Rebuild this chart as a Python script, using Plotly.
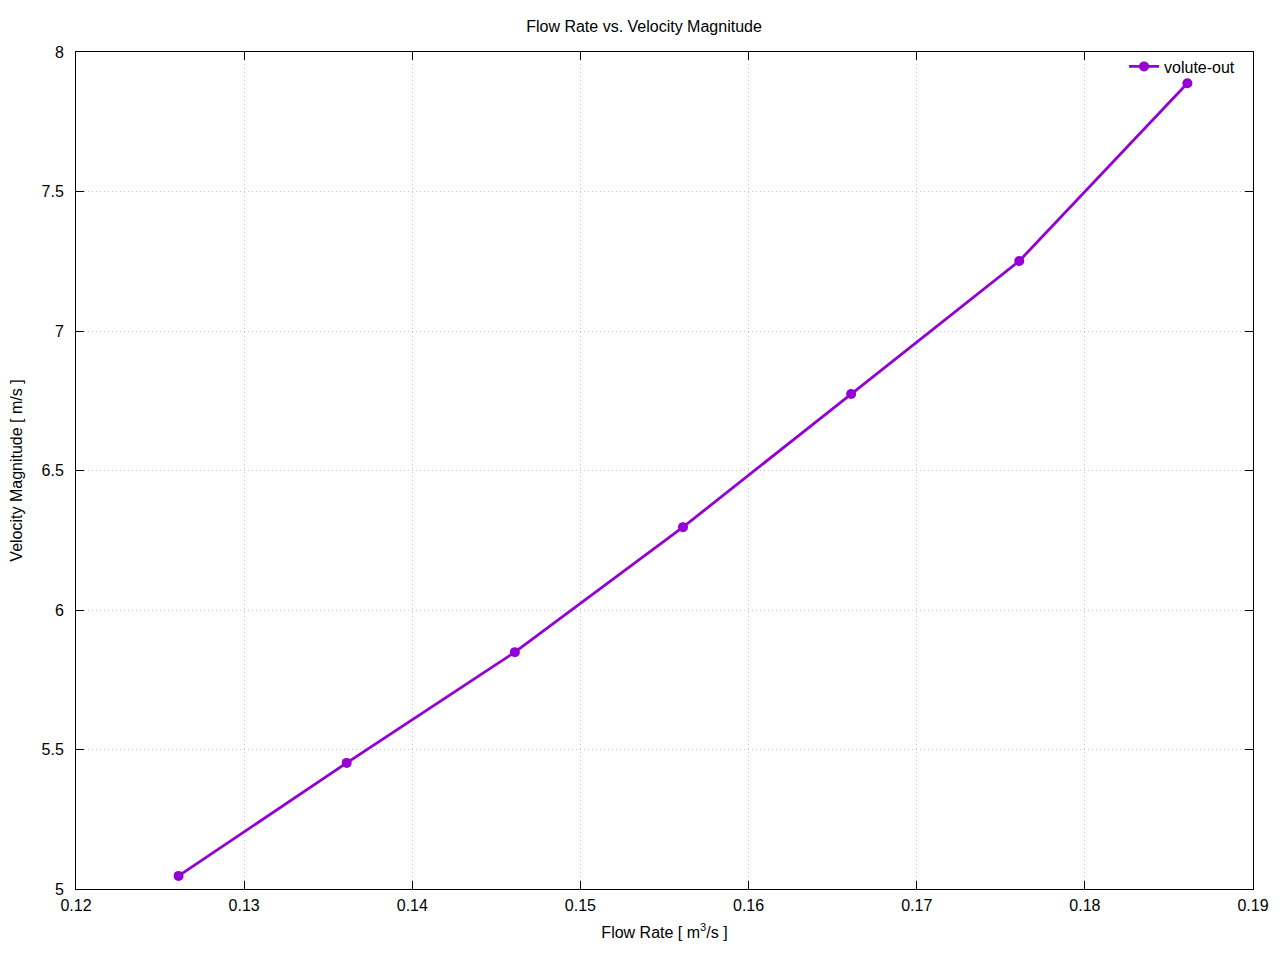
import plotly.graph_objects as go

flow_rate = [0.1261, 0.1361, 0.1461, 0.1561, 0.1661, 0.1761, 0.1861]
velocity = [5.047, 5.452, 5.849, 6.297, 6.774, 7.251, 7.888]
series_name = "volute-out"

color = "#9400D3"
font = "Liberation Sans, Arial, sans-serif"

fig = go.Figure()
fig.add_trace(go.Scatter(
    x=flow_rate, y=velocity, mode="lines+markers", name=series_name,
    line=dict(color=color, width=2.8),
    marker=dict(color=color, size=10, symbol="circle"),
))

axis_common = dict(
    showline=True, linecolor="black", linewidth=1, mirror="ticks",
    ticks="inside", ticklen=8, tickcolor="black", tickwidth=1,
    showgrid=True, gridcolor="#c4c4c4", griddash="1px,3px", gridwidth=1,
    zeroline=False, automargin=False,
    tickfont=dict(family=font, size=16, color="black"),
)

fig.update_layout(
    width=1272, height=952,
    paper_bgcolor="white", plot_bgcolor="white",
    margin=dict(l=68, r=27, t=44, b=71),
    title=dict(text="Flow Rate vs. Velocity Magnitude", x=0.5, xanchor="center",
               y=1 - 18 / 952, yanchor="middle",
               font=dict(family=font, size=16, color="black")),
    xaxis=dict(range=[0.12, 0.19], dtick=0.01, tickformat=".2f",
               ticklabelstandoff=2,
               title=dict(text="Flow Rate [ m<sup>3</sup>/s ]", standoff=13,
                          font=dict(family=font, size=16, color="black")),
               **axis_common),
    yaxis=dict(range=[5, 8], dtick=0.5, ticklabelstandoff=8,
               title=dict(text="Velocity Magnitude [ m/s ]", standoff=15,
                          font=dict(family=font, size=16, color="black")),
               **axis_common),
    showlegend=True,
    legend=dict(x=0.989, y=1.003, xanchor="right", yanchor="top",
                bgcolor="rgba(0,0,0,0)", font=dict(family=font, size=16, color="black")),
)

fig.write_html("out.html")
